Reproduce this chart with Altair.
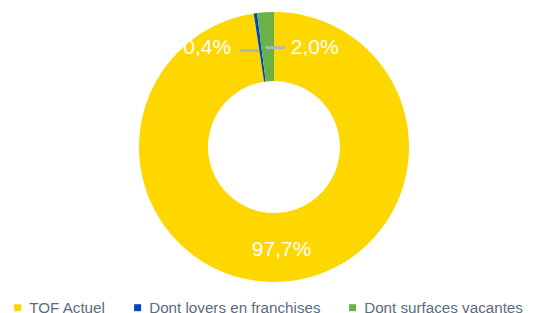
import altair as alt
import pandas as pd

categories = ["TOF Actuel", "Dont loyers en franchises", "Dont surfaces vacantes"]
values = [97.7, 0.4, 2.0]
labels = ["97,7%", "0,4%", "2,0%"]
colors = ["#FFD700", "#0047BB", "#6AB245"]
order = [0, 1, 2]

df = pd.DataFrame({"cat": categories, "val": values, "label": labels, "ord": order})

base = alt.Chart(df).encode(
    theta=alt.Theta("val:Q", stack=True),
    order=alt.Order("ord:Q", sort="ascending"),
)

arc = base.mark_arc(outerRadius=135, innerRadius=66).encode(
    color=alt.Color(
        "cat:N",
        scale=alt.Scale(domain=categories, range=colors),
        sort=categories,
        legend=alt.Legend(
            title=None,
            orient="none",
            direction="horizontal",
            legendX=-8,
            legendY=292,
            padding=0,
            symbolType="square",
            symbolSize=49,
            symbolStrokeWidth=0,
            labelFontSize=15.2,
            labelFont="Liberation Sans",
            labelColor="#5C6C7E",
            labelOffset=4,
            labelLimit=400,
            columnPadding=24,
        ),
    )
)

def lab(i, dx, dy, radius):
    return base.mark_text(
        radius=radius, dx=dx, dy=dy, fontSize=21, font="Liberation Sans", color="white"
    ).encode(text=alt.condition(alt.datum.ord == i, "label:N", alt.value("")))

def lead(i, dx, dy, radius):
    return base.mark_text(
        radius=radius, dx=dx, dy=dy, fontSize=17, font="Liberation Sans",
        color="#AEB7BF", stroke="#AEB7BF", strokeWidth=1.6
    ).encode(text=alt.condition(alt.datum.ord == i, alt.value("—"), alt.value("")))

chart = alt.layer(
    arc,
    lab(0, 0, 2, 101),
    lab(1, -53, 0, 100),
    lab(2, 47, 1, 100),
    lead(1, -11, 2, 100),
    lead(2, 7, 0, 100),
).properties(
    width=512,
    height=278,
    padding={"left": 10, "top": 0, "right": 0, "bottom": 27},
    autosize=alt.AutoSizeParams(type="none"),
).configure_view(stroke=None)

chart.save("out.html", embed_options={"renderer": "svg", "actions": False})
